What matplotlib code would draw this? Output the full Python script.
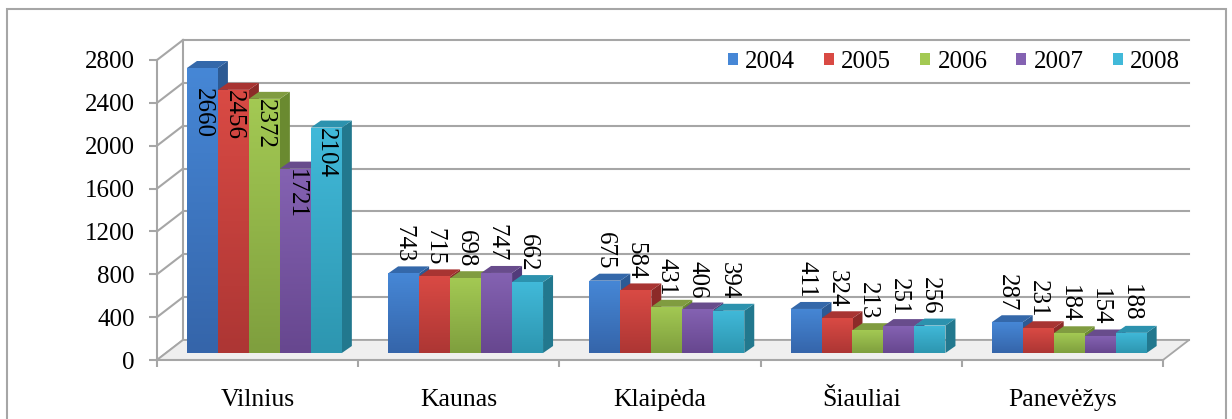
import numpy as np
import matplotlib
matplotlib.use("Agg")
import matplotlib.pyplot as plt
from matplotlib.patches import Rectangle, Polygon, Patch
from matplotlib.colors import LinearSegmentedColormap

# data
cities = ["Vilnius", "Kaunas", "Klaipėda", "Šiauliai", "Panevėžys"]
years = ["2004", "2005", "2006", "2007", "2008"]
v2004 = [2660, 743, 675, 411, 287]
v2005 = [2456, 715, 584, 324, 231]
v2006 = [2372, 698, 431, 213, 184]
v2007 = [1721, 747, 406, 251, 154]
v2008 = [2104, 662, 394, 256, 188]
series = [v2004, v2005, v2006, v2007, v2008]
yticks = [0, 400, 800, 1200, 1600, 2000, 2400, 2800]

# colours: front top, front bottom, top face, side face
front_top = ["#4687d6", "#d94a44", "#a3c953", "#8462b2", "#41b9d9"]
front_bot = ["#3565aa", "#ad3634", "#7f9f3e", "#67478f", "#2d96b0"]
top_col = ["#3468aa", "#a83432", "#809c40", "#684c8c", "#2c92ae"]
side_col = ["#2c5a94", "#8c2a28", "#6a8a30", "#523b7a", "#22788e"]
grid_col = "#a6a6a6"

plt.rcParams["font.family"] = ["Liberation Serif", "DejaVu Serif"]
FS = 18

fig = plt.figure(figsize=(12.32, 4.19), dpi=100)
W, H = 1232, 419
ax = fig.add_axes([157 / W, 59 / H, 1006 / W, 300 / H])
ax.set_xlim(0, len(cities))
ax.set_ylim(0, 2800)

# pixels per data unit, to turn the 3d depth offsets into data units
p0 = ax.transData.transform((0, 0))
p1 = ax.transData.transform((1, 1))
sx, sy = p1[0] - p0[0], p1[1] - p0[1]


def off(dx, dy):
    return dx / sx, dy / sy


wall_dx, wall_dy = off(26, 20)
plane_dx, plane_dy = off(9, 7)
depth_dx, depth_dy = off(10, 7)
ncat = len(cities)

# floor and walls
floor = Polygon([(0, 0), (ncat, 0), (ncat + wall_dx, wall_dy), (wall_dx, wall_dy)],
                closed=True, facecolor="#efefef", edgecolor=grid_col, lw=1.3,
                zorder=1, clip_on=False)
ax.add_patch(floor)
for t in yticks:
    ax.plot([wall_dx, ncat + wall_dx], [t + wall_dy, t + wall_dy], color=grid_col,
            lw=1.5, zorder=0.5, clip_on=False)
    ax.plot([0, wall_dx], [t, t + wall_dy], color=grid_col, lw=1.5, zorder=0.5,
            clip_on=False)
ax.plot([wall_dx, wall_dx], [wall_dy, yticks[-1] + wall_dy], color=grid_col, lw=1.5,
        zorder=0.5, clip_on=False)

# bars
bar_w = 0.154
g0 = 0.104
z = 2.0
for i in range(ncat):
    for j, vals in enumerate(series):
        v = vals[i]
        x0 = i + g0 + j * bar_w + plane_dx
        y0 = plane_dy
        side = Polygon([(x0 + bar_w, y0), (x0 + bar_w + depth_dx, y0 + depth_dy),
                        (x0 + bar_w + depth_dx, y0 + v + depth_dy), (x0 + bar_w, y0 + v)],
                       closed=True, facecolor=side_col[j], edgecolor="none",
                       zorder=z, clip_on=False)
        ax.add_patch(side)
        top = Polygon([(x0, y0 + v), (x0 + bar_w, y0 + v),
                       (x0 + bar_w + depth_dx, y0 + v + depth_dy),
                       (x0 + depth_dx, y0 + v + depth_dy)],
                      closed=True, facecolor=top_col[j], edgecolor="none",
                      zorder=z + 0.001, clip_on=False)
        ax.add_patch(top)
        rect = Rectangle((x0, y0), bar_w, v, facecolor="none", edgecolor="none",
                         zorder=z + 0.002)
        ax.add_patch(rect)
        cmap = LinearSegmentedColormap.from_list("g", [front_bot[j], front_top[j]])
        im = ax.imshow(np.linspace(0, 1, 64).reshape(-1, 1), cmap=cmap,
                       extent=[x0, x0 + bar_w, y0, y0 + v], origin="lower",
                       aspect="auto", zorder=z + 0.003, interpolation="bilinear")
        im.set_clip_path(rect)
        z += 0.01

        # value labels
        xc = x0 + bar_w / 2
        if v > 1500:
            ax.text(xc, y0 + min(v, 2470), str(v), rotation=-90, ha="center", va="top",
                    fontsize=FS, zorder=10, clip_on=False)
        else:
            ax.text(xc, y0 + v + off(0, 11)[1], str(v), rotation=-90, ha="center",
                    va="bottom", fontsize=FS, zorder=10, clip_on=False)

ax.set_xlim(0, ncat)
ax.set_ylim(0, 2800)

# axes styling
for s in ["top", "right"]:
    ax.spines[s].set_visible(False)
for s in ["left", "bottom"]:
    ax.spines[s].set_color(grid_col)
    ax.spines[s].set_linewidth(1.5)
    ax.spines[s].set_zorder(1.5)
ax.set_yticks(yticks)
ax.set_yticklabels([str(t) for t in yticks], fontsize=FS)
ax.tick_params(axis="y", length=6, width=1.5, color=grid_col, pad=10)
ax.set_xticks(np.arange(ncat + 1))
ax.set_xticklabels([])
ax.set_xticks(np.arange(ncat) + 0.5, minor=True)
ax.set_xticklabels(cities, minor=True, fontsize=18.5)
ax.tick_params(axis="x", which="major", length=5, width=1.5, color=grid_col)
ax.tick_params(axis="x", which="minor", length=0, pad=21)
ax.patch.set_visible(False)

# legend
handles = [Patch(facecolor=front_top[j], edgecolor="none") for j in range(len(years))]
fig.legend(handles, years, loc="center right", bbox_to_anchor=(1180 / W, 1 - 62 / H),
           ncol=5, frameon=False, handlelength=0.4, handleheight=0.4,
           handletextpad=0.3, columnspacing=1.15, borderpad=0, borderaxespad=0,
           prop={"size": FS})

# chart border
fig.patches.append(Rectangle((7 / W, -0.1), (1226 - 7) / W, 1.1 - 9 / H,
                             transform=fig.transFigure, facecolor="none",
                             edgecolor=grid_col, lw=1.5))

fig.savefig("out.png", dpi=100)
